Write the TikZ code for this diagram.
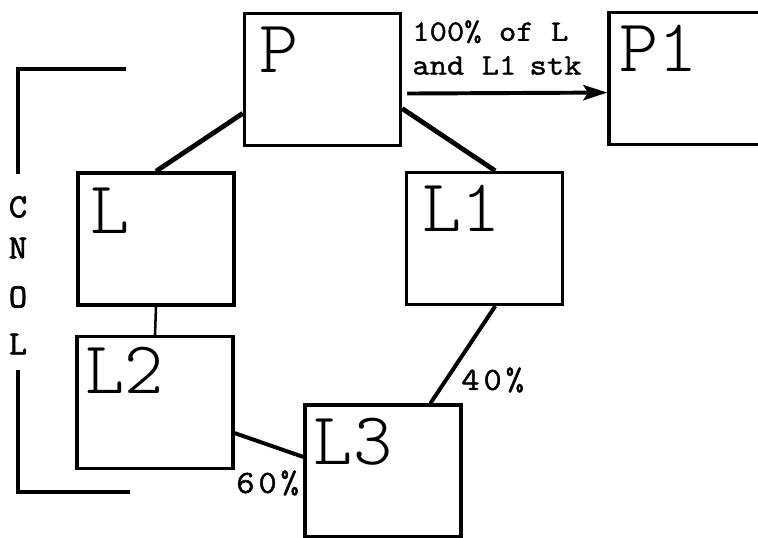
\documentclass[tikz,border=0pt]{standalone}
\usepackage{fontspec}
\newfontfamily\namefont{Latin Modern Mono Light}
\newfontfamily\notefont{Latin Modern Mono}[FakeBold=1.4, FakeStretch=1.14]
\newfontfamily\pctfont{Latin Modern Mono}[FakeBold=1.4, FakeStretch=1.1, LetterSpace=12]
\newfontfamily\sidefont{Latin Modern Mono}[FakeBold=2.2, FakeStretch=1.05]
\usetikzlibrary{positioning,arrows.meta}

\tikzset{
  box/.style={draw, line width=2.4pt, minimum width=3.9cm, minimum height=3.3cm, inner sep=0pt},
  boxname/.style={inner sep=0pt, font=\namefont\fontsize{53}{53}\selectfont},
  note/.style={inner sep=0pt, font=\notefont\fontsize{21}{24}\selectfont, align=left},
  pct/.style={inner sep=0pt, font=\pctfont\fontsize{23}{24}\selectfont},
  sidetxt/.style={inner sep=0pt, font=\sidefont\fontsize{24}{24}\selectfont},
  link/.style={line width=3.4pt},
  bracket/.style={line width=2.2pt},
}

\begin{document}
\begin{tikzpicture}[x=0.025cm, y=-0.025cm]
  \clip (0,0) rectangle (758,538);

  % holding company and subsidiaries
  \node[box] (P)  at (322.5,79.5) {};
  \node[box] (P1) at (687,78.5) {};
  \node[box] (L)  at (156,239) {};
  \node[box] (L1) at (484.5,238.5) {};
  \node[box] (L2) at (155,402.5) {};
  \node[box] (L3) at (383,471) {};

  % names in the upper left corners
  \node[boxname, below right=0.36cm and 0.42cm of P.north west]  (Pname)  {P};
  \node[boxname, below right=0.36cm and 0.30cm of P1.north west] (P1name) {P1};
  \node[boxname, below right=0.40cm and 0.36cm of L.north west]  (Lname)  {L};
  \node[boxname, below right=0.34cm and 0.44cm of L1.north west] (L1name) {L1};
  \node[boxname, below right=0.31cm and 0.24cm of L2.north west] (L2name) {L2};
  \node[boxname, below right=0.36cm and 0.26cm of L3.north west] (L3name) {L3};

  % ownership lines
  \draw[link] (P.203) -- (L.north);
  \draw[link] (P.340) -- (L1.81);
  \draw[link, line width=1.8pt] (L.south) -- (L2.north);
  \draw[link, line width=2.8pt] (L1.-81) -- (L3.55);
  \draw[link, line width=2.8pt] (L2.-21) -- (L3.170);

  % transfer to P1
  \draw[link, line width=2.8pt, shorten <=0.12cm,
        -{Stealth[length=0.6cm, width=0.38cm, inset=0.12cm]}] (P.-10) -- (P1.190);
  \node[note, anchor=north west] (xfer) at (412,20) {100\% of L\\and L1\hspace{0.45em}stk};

  % percentages
  \node[pct, anchor=west] (pct40) at (461,380) {40\%};
  \node[pct, anchor=west] (pct60) at (236,483) {60\%};

  % group bracket
  \draw[bracket] (126,69) -- (18,69) -- (18,174);
  \draw[bracket] (18,370) -- (18,492) -- (130,492);
  \foreach \ch/\yy [count=\i] in {C/207,N/248,O/297,L/344}
    \node[sidetxt] (side\i) at (18,\yy) {\ch};
\end{tikzpicture}
\end{document}
